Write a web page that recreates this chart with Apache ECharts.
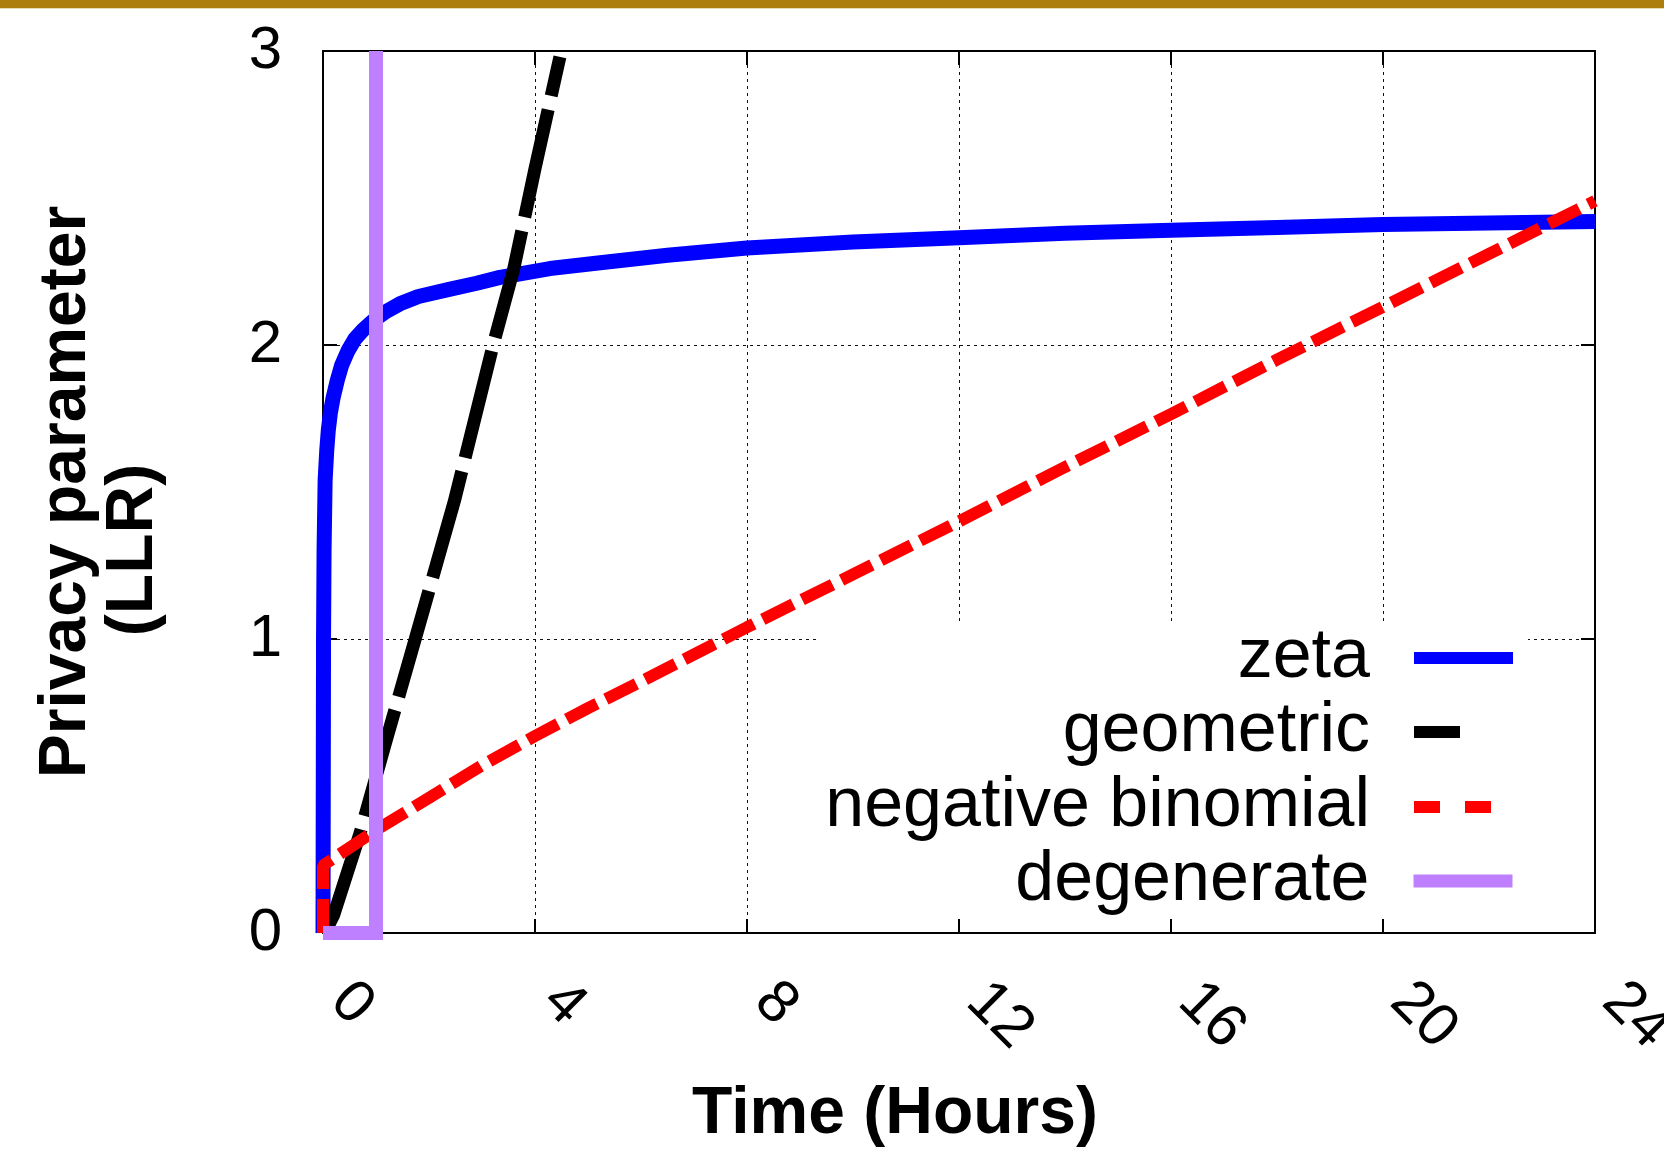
<!DOCTYPE html>
<html>
<head>
<meta charset="utf-8">
<script src="https://cdn.jsdelivr.net/npm/echarts@6/dist/echarts.min.js"></script>
<style>
  html, body { margin: 0; padding: 0; background: #fff; }
  #chart { width: 1664px; height: 1152px; }
</style>
</head>
<body>
<div id="chart"></div>
<script>
// x ticks (hours) and y ticks (LLR)
var xTicks = [0, 4, 8, 12, 16, 20, 24];
var yTicks = [0, 1, 2, 3];

// zeta
var zetaHours = [0, 0.005, 0.01, 0.02, 0.04, 0.07, 0.1, 0.14, 0.19, 0.27, 0.35, 0.47, 0.6, 0.75, 0.87, 1.0, 1.2, 1.45, 1.8, 2.4, 2.9, 3.34, 4.28, 5.23, 6.5, 8, 10, 12, 14, 16, 18, 20, 22, 24];
var zetaLLR   = [0, 0.5, 1.0, 1.3, 1.54, 1.64, 1.71, 1.77, 1.82, 1.88, 1.93, 1.98, 2.02, 2.05, 2.07, 2.09, 2.115, 2.14, 2.165, 2.19, 2.21, 2.23, 2.26, 2.28, 2.305, 2.33, 2.35, 2.365, 2.38, 2.39, 2.40, 2.41, 2.415, 2.42];

// geometric
var geoHours = [0.03, 0.2, 0.7, 1.2, 1.74, 2.48, 3.21, 3.6, 4.0, 4.47];
var geoLLR   = [0, 0.06, 0.34, 0.66, 1.0, 1.47, 2.0, 2.26, 2.6, 2.98];

// negative binomial
var negHours = [0, 0, 0.5, 1, 2, 3, 4, 5, 6, 8, 10, 12, 14, 16, 18, 20, 22, 24];
var negLLR   = [0, 0.23, 0.29, 0.35, 0.46, 0.57, 0.67, 0.765, 0.855, 1.04, 1.22, 1.40, 1.585, 1.765, 1.95, 2.13, 2.31, 2.49];

// degenerate
var degHours = [0, 1, 1];
var degLLR   = [0, 0, 3];

var seriesNames = ['zeta', 'geometric', 'negative binomial', 'degenerate'];

function pairs(xs, ys){
    var out = [];
    for(var i=0;i<xs.length;i++){
        out.push([xs[i], ys[i]]);
    }
    return out;
}

var FONT = '"Liberation Sans", Arial, Helvetica, sans-serif';
var frameLine = { show: true, onZero: false, lineStyle: { color: '#000', width: 2 } };
var innerTick = { show: true, inside: true, length: 14, lineStyle: { color: '#000', width: 2 } };
var gridDots = { show: true, lineStyle: { color: '#111', width: 1, type: [3, 4] } };

// one legend per row so the samples line up like gnuplot's key
function legendRow(name, top, right, width, color, lw, dash){
    return {
        data: [name],
        orient: 'vertical',
        align: 'right',
        top: top,
        right: right,
        padding: 0,
        itemWidth: width,
        itemHeight: 70,
        selectedMode: false,
        itemStyle: { color: 'rgba(0,0,0,0)', borderColor: 'rgba(0,0,0,0)', borderWidth: 0, opacity: 0 },
        lineStyle: { color: color, width: lw, type: dash, opacity: 1 },
        textStyle: { fontSize: 70, fontFamily: FONT, color: '#000', lineHeight: 70, padding: [0, 39, 0, 0] }
    };
}

var chart = echarts.init(document.getElementById('chart'));
var option = {
    animation: false,
    backgroundColor: '#fff',
    grid: { left: 323, top: 51, right: 69, bottom: 219, containLabel: false, outerBoundsMode: 'none' },
    xAxis: [
        {
            type: 'value', min: xTicks[0], max: xTicks[xTicks.length-1], interval: 4,
            position: 'bottom',
            axisLine: frameLine, axisTick: innerTick, splitLine: gridDots,
            axisLabel: {
                show: true, rotate: -45, margin: 42, padding: [0, 0, 0, 24],
                fontSize: 60, fontFamily: FONT, color: '#000',
                showMinLabel: true, showMaxLabel: true
            }
        },
        {
            type: 'value', min: xTicks[0], max: xTicks[xTicks.length-1], interval: 4,
            position: 'top',
            axisLine: frameLine, axisTick: innerTick, splitLine: { show: false },
            axisLabel: { show: false }
        }
    ],
    yAxis: [
        {
            type: 'value', min: yTicks[0], max: yTicks[yTicks.length-1], interval: 1,
            position: 'left',
            axisLine: frameLine, axisTick: innerTick, splitLine: gridDots,
            axisLabel: { show: true, margin: 41, fontSize: 60, fontFamily: FONT, color: '#000' }
        },
        {
            type: 'value', min: yTicks[0], max: yTicks[yTicks.length-1], interval: 1,
            position: 'right',
            axisLine: frameLine, axisTick: innerTick, splitLine: { show: false },
            axisLabel: { show: false }
        }
    ],
    legend: [
        legendRow(seriesNames[0], 658-35, 1664-1519, 99, '#0000ff', 12, 'solid'),
        legendRow(seriesNames[1], 732-35, 1664-1466, 46, '#000000', 12, 'solid'),
        legendRow(seriesNames[2], 807-35, 1664-1498, 78, '#ff0000', 12, [26, 25]),
        legendRow(seriesNames[3], 881-35, 1664-1519, 99, '#bf80ff', 13, 'solid')
    ],
    graphic: [
        // gold band at the very top
        { type: 'rect', left: 0, top: 0, z: 10, shape: { width: 1664, height: 8 }, style: { fill: '#ad7e0c' } },
        { type: 'rect', left: 0, top: 8, z: 10, shape: { width: 1664, height: 1 }, style: { fill: '#e9dcae' } },
        // key box hides the grid dots behind it
        { type: 'rect', left: 817, top: 624, z: 1, shape: { width: 711, height: 294 }, style: { fill: '#fff' } },
        // axis titles
        { type: 'text', x: 895, y: 1115, z: 10,
          style: { text: 'Time (Hours)', font: 'bold 66px ' + FONT, fill: '#000', align: 'center', verticalAlign: 'middle' } },
        { type: 'text', x: 67, y: 492, rotation: Math.PI/2, z: 10,
          style: { text: 'Privacy parameter', font: 'bold 66px ' + FONT, fill: '#000', align: 'center', verticalAlign: 'middle' } },
        { type: 'text', x: 134, y: 550, rotation: Math.PI/2, z: 10,
          style: { text: '(LLR)', font: 'bold 66px ' + FONT, fill: '#000', align: 'center', verticalAlign: 'middle' } }
    ],
    series: [
        {
            name: seriesNames[0], type: 'line', symbol: 'none', z: 3,
            data: pairs(zetaHours, zetaLLR),
            lineStyle: { color: '#0000ff', width: 15, join: 'round' },
            itemStyle: { color: '#0000ff' }
        },
        {
            name: seriesNames[1], type: 'line', symbol: 'none', z: 4,
            data: pairs(geoHours, geoLLR),
            lineStyle: { color: '#000000', width: 13, type: [110, 14] },
            itemStyle: { color: '#000000' }
        },
        {
            name: seriesNames[2], type: 'line', symbol: 'none', z: 5,
            data: pairs(negHours, negLLR),
            lineStyle: { color: '#ff0000', width: 12, type: [34, 10] },
            itemStyle: { color: '#ff0000' }
        },
        {
            name: seriesNames[3], type: 'line', symbol: 'none', z: 6,
            data: pairs(degHours, degLLR),
            lineStyle: { color: '#bf80ff', width: 14, join: 'miter' },
            itemStyle: { color: '#bf80ff' }
        }
    ]
};
chart.setOption(option);
</script>
</body>
</html>
